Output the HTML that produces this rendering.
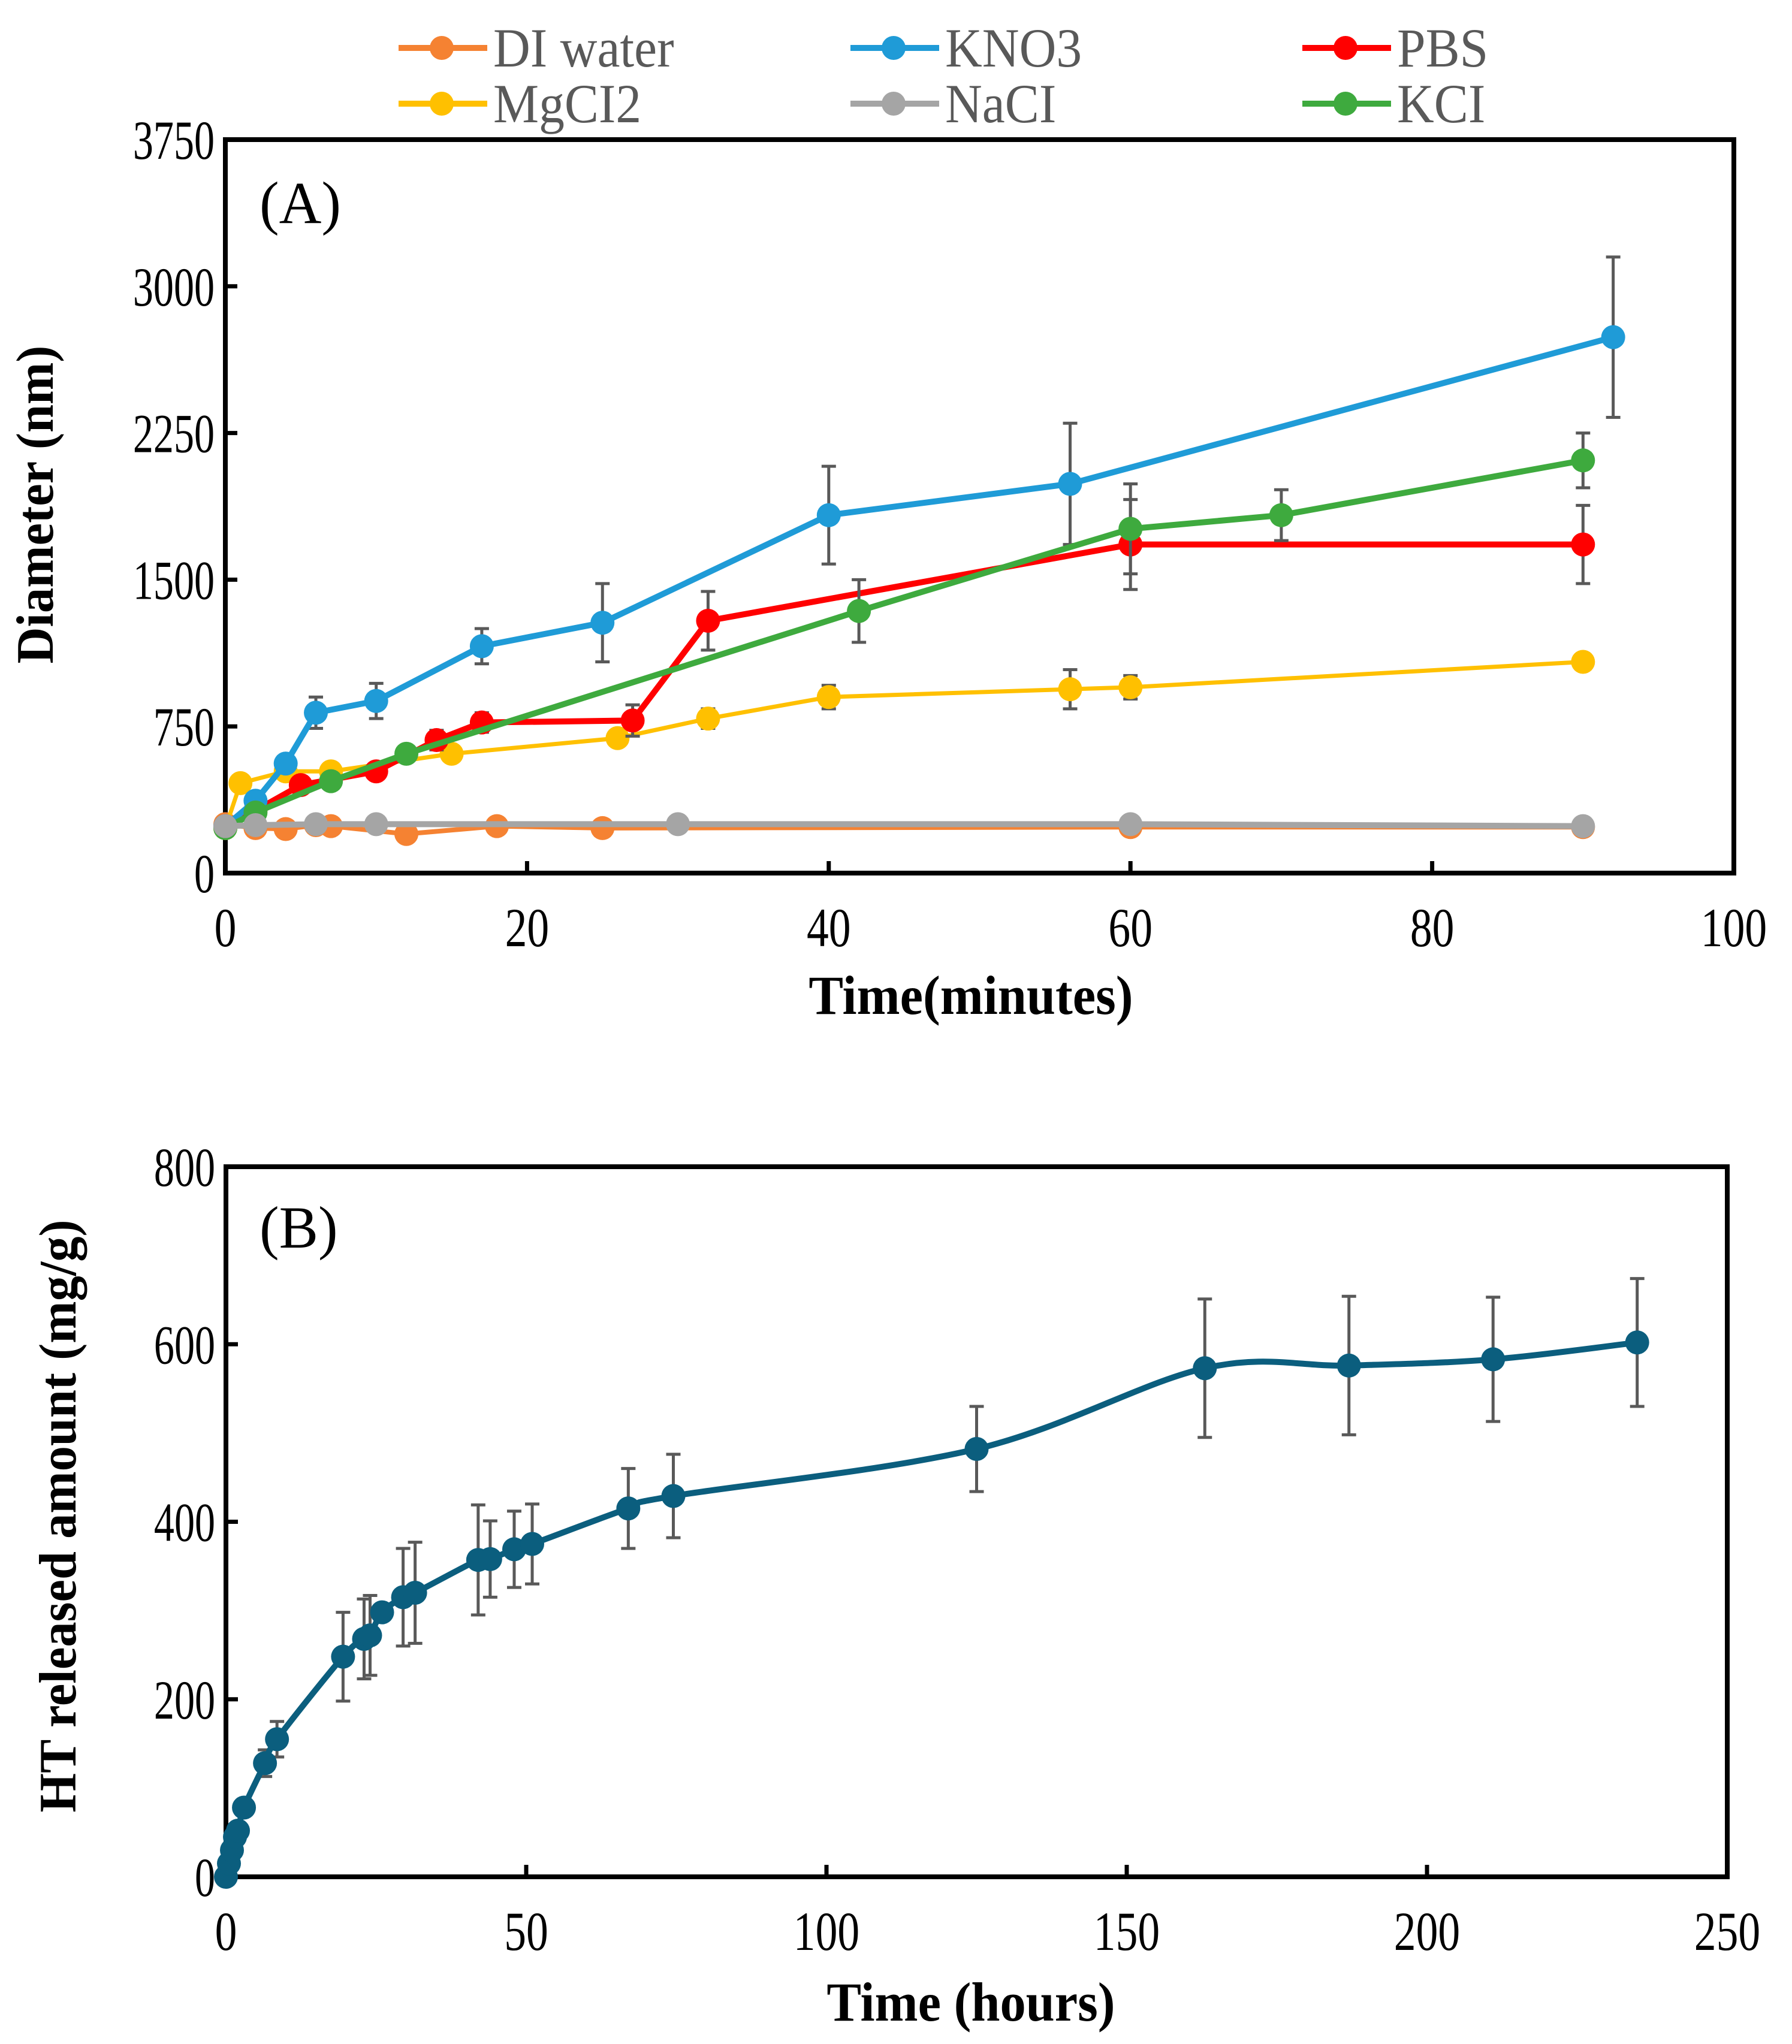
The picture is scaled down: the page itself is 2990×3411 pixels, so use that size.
<!DOCTYPE html>
<html><head><meta charset="utf-8"><style>html,body{margin:0;padding:0;background:#fff}svg{display:block}</style></head>
<body>
<svg id="chart" width="2990" height="3411" viewBox="0 0 2990 3411" xmlns="http://www.w3.org/2000/svg" font-family="'Liberation Serif', serif"></svg>
<script>
// ---- Panel A data ----
const seriesNames = ["DI water","KNO3","PBS","MgCl2","NaCl","KCl"];
const legendLabels = ["DI water","KNO3","PBS","MgCI2","NaCI","KCI"];
const diX = [0,2,4,6,7,12,18,25,60,90];
const diY = [250,230,225,245,240,200,240,230,235,235];
const diE = [0,0,0,0,0,40,0,0,0,0];
const knoX = [0,2,4,6,10,17,25,40,56,92];
const knoY = [240,370,560,820,880,1160,1280,1830,1990,2740];
const knoE = [0,0,0,80,90,90,200,250,310,410];
const pbsX = [0,2,5,10,14,17,27,32,60,90];
const pbsY = [240,320,450,520,680,770,780,1290,1680,1680];
const pbsE = [0,0,0,40,50,50,80,150,230,200];
const mgX = [0,1,4,7,15,26,32,40,56,60,90];
const mgY = [230,460,520,520,610,690,790,900,940,950,1080];
const mgE = [0,0,0,0,0,40,50,60,100,60,30];
const naX = [0,2,6,10,30,60,90];
const naY = [240,245,250,250,250,250,240];
const naE = [0,0,0,0,0,0,0];
const kclX = [0,2,7,12,42,60,70,90];
const kclY = [230,310,470,610,1340,1760,1830,2110];
const kclE = [0,0,40,40,160,230,130,140];
const aXTicks = [0,20,40,60,80,100];
const aYTicks = [0,750,1500,2250,3000,3750];
// ---- Panel B data ----
const bX = [0,0.5,1,1.5,2,3,6.5,8.5,19.5,23,24,26,29.5,31.5,42,44,48,51,67,74.5,125,163,187,211,235];
const bY = [0,15,30,45,52,78,128,155,248,268,272,298,315,320,357,358,369,375,415,429,482,573,576,583,602];
const bE = [0,0,0,0,0,0,15,20,50,45,45,0,55,57,62,43,43,45,45,47,48,78,78,70,72];
const bXTicks = [0,50,100,150,200,250];
const bYTicks = [0,200,400,600,800];

const svg = document.getElementById('chart');
const NS = "http://www.w3.org/2000/svg";
function mk(tag, attrs, parent){const e=document.createElementNS(NS,tag);for(const k in attrs)e.setAttribute(k,attrs[k]);(parent||svg).appendChild(e);return e;}
function txt(str,x,y,fs,anchor,bold,parent,rot,sx){
  const g=mk('g',{transform:`translate(${x},${y})`+(rot?` rotate(${rot})`:'')+` scale(${sx||0.78},1)`},parent);
  const t=mk('text',{x:0,y:0,'font-size':fs,'text-anchor':anchor,'font-weight':bold?'bold':'normal',fill:'#000'},g);
  t.textContent=str;return t;}

const A={l:376,r:2893,t:233,b:1457,xmax:100,ymax:3750};
const ax=v=>A.l+(A.r-A.l)*v/A.xmax, ay=v=>A.b-(A.b-A.t)*v/A.ymax;
const B={l:377,r:2882,t:1947,b:3132,xmax:250,ymax:800};
const bx=v=>B.l+(B.r-B.l)*v/B.xmax, by=v=>B.b-(B.b-B.t)*v/B.ymax;

function axes(P,fx,fy,xt,yt,name){
  const g=mk('g',{});
  
  
  xt.forEach(v=>{mk('line',{x1:fx(v),x2:fx(v),y1:P.b,y2:P.b-20,stroke:'#000','stroke-width':7},g);
    const t=txt(String(v),fx(v),P.b+122,92,'middle',false,g,0,0.8);
    
    });
  yt.forEach(v=>{mk('line',{x1:P.l,x2:P.l+20,y1:fy(v),y2:fy(v),stroke:'#000','stroke-width':7},g);
    const t=txt(String(v),P.l-18,fy(v)+32,92,'end',false,g,0,0.74);
    
    });
  const r=mk('rect',{x:P.l,y:P.t,width:P.r-P.l,height:P.b-P.t,fill:'none',stroke:'#000','stroke-width':8},g);
  
  
}
axes(A,ax,ay,aXTicks,aYTicks,'panel-a');
axes(B,bx,by,bXTicks,bYTicks,'panel-b');

function errBars(xs,ys,es,fx,fy,name){
  const g=mk('g',{});
  
  
  xs.forEach((x,i)=>{if(!es[i])return;const X=fx(x),y1=fy(ys[i]-es[i]),y2=fy(ys[i]+es[i]);
    mk('line',{x1:X,x2:X,y1:y1,y2:y2,stroke:'#595959','stroke-width':5},g);
    mk('line',{x1:X-12,x2:X+12,y1:y1,y2:y1,stroke:'#595959','stroke-width':5},g);
    mk('line',{x1:X-12,x2:X+12,y1:y2,y2:y2,stroke:'#595959','stroke-width':5},g);});
}
function series(xs,ys,es,color,w,name){
  errBars(xs,ys,es,ax,ay,name);
  const g=mk('g',{});
  
  
  mk('polyline',{points:xs.map((x,i)=>ax(x)+','+ay(ys[i])).join(' '),fill:'none',stroke:color,'stroke-width':w,'stroke-linejoin':'round'},g);
  xs.forEach((x,i)=>{const c=mk('circle',{cx:ax(x),cy:ay(ys[i]),r:20,fill:color},g);
    
    });
}
const colors=['#F58232','#1F9BD7','#FF0000','#FFC000','#A5A5A5','#3EAA3E'];
series(diX,diY,diE,colors[0],8,'di-water');
series(mgX,mgY,mgE,colors[3],7,'mgcl2');
series(pbsX,pbsY,pbsE,colors[2],10,'pbs');
series(knoX,knoY,knoE,colors[1],10,'kno3');
series(kclX,kclY,kclE,colors[5],10,'kcl');
series(naX,naY,naE,colors[4],10,'nacl');

const legX=[665,1419,2173], legY=[80,173];
legendLabels.forEach((lab,i)=>{
  const g=mk('g',{});
  
  
  const x=legX[i%3], y=legY[Math.floor(i/3)];
  mk('line',{x1:x,x2:x+148,y1:y,y2:y,stroke:colors[i],'stroke-width':10},g);
  mk('circle',{cx:x+72,cy:y,r:20,fill:colors[i]},g);
  const t=txt(lab,x+158,y+31,92,'start',false,g,0,0.93);
  t.setAttribute('fill','#595959');
});

errBars(bX,bY,bE,bx,by,'panel-b');
(function(){
  const g=mk('g',{});
  
  
  const P=bX.map((x,i)=>[bx(x),by(bY[i])]);
  let d='M'+P[0][0]+','+P[0][1];
  for(let i=0;i<P.length-1;i++){
    const p0=P[i-1]||P[i],p1=P[i],p2=P[i+1],p3=P[i+2]||P[i+1];
    const c1=[p1[0]+(p2[0]-p0[0])/6,p1[1]+(p2[1]-p0[1])/6];
    const c2=[p2[0]-(p3[0]-p1[0])/6,p2[1]-(p3[1]-p1[1])/6];
    d+=` C${c1[0]},${c1[1]} ${c2[0]},${c2[1]} ${p2[0]},${p2[1]}`;
  }
  mk('path',{d:d,fill:'none',stroke:'#0B5E7E','stroke-width':10},g);
  P.forEach(p=>{const c=mk('circle',{cx:p[0],cy:p[1],r:20,fill:'#0B5E7E'},g);
    
    });
})();

let t;
t=txt('(A)',433,372,100,'start',false,null,0,0.98);


t=txt('(B)',433,2082,100,'start',false,null,0,0.98);


t=txt('Time(minutes)',1620,1692,92,'middle',true,null,0,0.94);


t=txt('Diameter (nm)',88,842,88,'middle',true,null,-90,0.96);


t=txt('Time (hours)',1620,3372,92,'middle',true,null,0,0.94);


t=txt('HT released amount (mg/g)',126,2530,88,'middle',true,null,-90,0.96);


</script>
</body></html>
